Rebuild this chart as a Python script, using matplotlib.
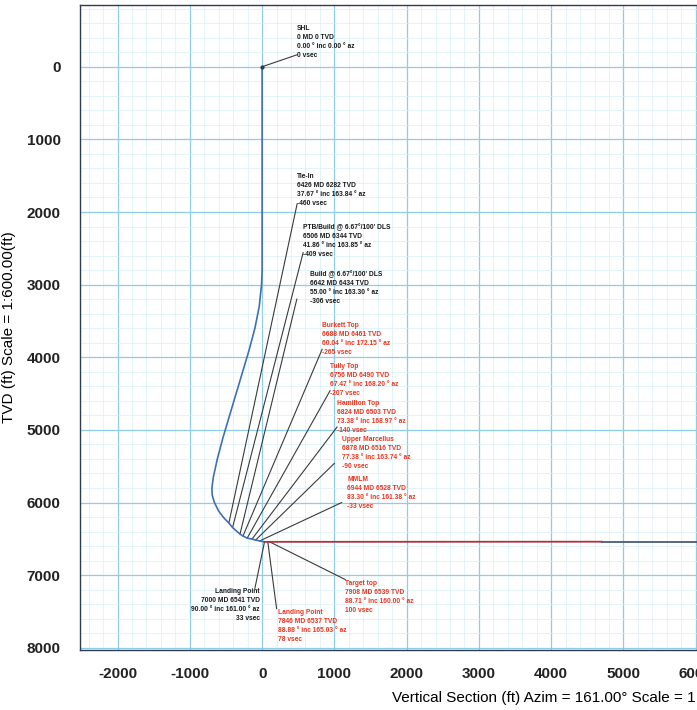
import matplotlib
matplotlib.use("Agg")
import matplotlib.pyplot as plt
from matplotlib.ticker import MultipleLocator

plt.rcParams["font.family"] = ["Liberation Sans", "DejaVu Sans"]
plt.rcParams["axes.unicode_minus"] = False

# ─── well path (vertical section ft, TVD ft) ───
path_vs = [0, 0, 0, -8, -40, -100, -180, -270, -360, -450, -540, -620, -675,
           -695, -690, -660, -600, -530, -460, -409, -306, -265, -207, -140,
           -90, -33, 33]
path_tvd = [0, 1500, 2800, 3000, 3300, 3600, 3900, 4200, 4500, 4800, 5100,
            5400, 5650, 5800, 5900, 6000, 6120, 6210, 6282, 6344, 6434, 6461,
            6490, 6503, 6516, 6528, 6541]

# lateral: red part then dark part
lat_red_vs = [33, 4700]
lat_red_tvd = [6541, 6539]
lat_dark_vs = [4700, 10500]
lat_dark_tvd = [6539, 6539]

# ─── survey annotations ───
names = ["SHL", "Tie-In", "PTB/Build @ 6.67°/100' DLS", "Build @ 6.67°/100' DLS",
         "Burkett Top", "Tully Top", "Hamilton Top", "Upper Marcellus", "MMLM",
         "Landing Point", "Landing Point", "Target top"]
md = [0, 6426, 6506, 6642, 6688, 6756, 6824, 6878, 6944, 7000, 7846, 7908]
tvd = [0, 6282, 6344, 6434, 6461, 6490, 6503, 6516, 6528, 6541, 6537, 6539]
inc = [0.00, 37.67, 41.86, 55.00, 60.04, 67.47, 73.38, 77.38, 83.30, 90.00, 88.88, 88.71]
azi = [0.00, 163.84, 163.85, 163.30, 172.15, 168.20, 168.97, 163.74, 161.38, 161.00, 165.03, 160.00]
vsec = [0, -460, -409, -306, -265, -207, -140, -90, -33, 33, 78, 100]
is_red = [False, False, False, False, True, True, True, True, True, False, True, True]

# text anchor positions (VS, TVD) for each annotation, and where the leader ends
text_pos = [(484, -580), (484, 1460), (567, 2160), (664, 2800), (830, 3510),
            (940, 4080), (1037, 4590), (1106, 5080), (1175, 5630),
            (-30, 7180), (220, 7470), (1150, 7060)]
leader_end = [(484, -165), (484, 1890), (567, 2560), (480, 3200), (830, 3890),
              (940, 4460), (1037, 4960), (1000, 5460), (1100, 6000),
              (-100, 7180), (200, 7460), (1150, 7060)]
ha_list = ["left"] * 9 + ["right", "left", "left"]

# ─── figure ───
fig = plt.figure(figsize=(6.97, 7.10), dpi=100)
ax = fig.add_axes([80 / 697, 60 / 710, 941 / 697, 645 / 710])

ax.set_xlim(-2520, 10500)
ax.set_ylim(8030, -850)

ax.xaxis.set_major_locator(MultipleLocator(1000))
ax.yaxis.set_major_locator(MultipleLocator(1000))
ax.xaxis.set_minor_locator(MultipleLocator(200))
ax.yaxis.set_minor_locator(MultipleLocator(200))
ax.grid(which="minor", color="#d8eff8", lw=0.5)
ax.grid(which="major", color="#8fcde6", lw=0.9)
ax.set_axisbelow(True)
ax.tick_params(which="both", length=0)
ax.tick_params(axis="x", pad=12, labelsize=11)
ax.tick_params(axis="y", pad=14, labelsize=11)
for lab in ax.get_xticklabels() + ax.get_yticklabels():
    lab.set_fontweight("bold")
    lab.set_color("#222222")
for s in ax.spines.values():
    s.set_color("#2e3b55")
    s.set_linewidth(1.0)

# path
ax.plot(path_vs, path_tvd, color="#3d70b8", lw=1.2, zorder=3)
ax.plot(lat_red_vs, lat_red_tvd, color="#b0303a", lw=1.3, zorder=3)
ax.plot(lat_dark_vs, lat_dark_tvd, color="#4a5a78", lw=1.3, zorder=3)
ax.plot([0], [0], "o", color="#2e3b55", ms=2, zorder=4)

# annotations
for i in range(len(names)):
    col = "#e8351f" if is_red[i] else "#1a1a1a"
    txt = (f"{names[i]}\n{md[i]} MD {tvd[i]} TVD\n"
           f"{inc[i]:.2f} ° inc {azi[i]:.2f} ° az\n{vsec[i]} vsec")
    ax.plot([vsec[i], leader_end[i][0]], [tvd[i], leader_end[i][1]],
            color="#3a3a3a", lw=0.8, zorder=2)
    ax.text(text_pos[i][0], text_pos[i][1], txt, color=col, fontsize=4.8,
            fontweight="bold", ha=ha_list[i], va="top", linespacing=1.4,
            zorder=5)

ax.set_ylabel("TVD (ft) Scale = 1:600.00(ft)", fontsize=11)
ax.yaxis.set_label_coords(-(80 - 16) / 941, 0.5)
ax.set_xlabel("Vertical Section (ft) Azim = 161.00° Scale = 1:600.00(ft)", fontsize=11)
ax.xaxis.set_label_coords((392 - 80) / 941, -41 / 645)
ax.xaxis.label.set_ha("left")

fig.savefig("out.png", dpi=100)
